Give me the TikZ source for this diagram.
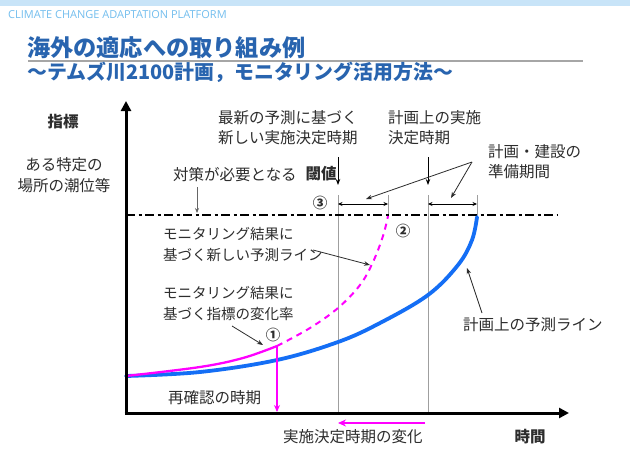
\documentclass[tikz,border=0pt]{standalone}
\usepackage{fontspec}
\setmainfont{Noto Sans CJK JP}
\newfontfamily\latinfont{Open Sans}
\usetikzlibrary{arrows.meta}
\definecolor{txt}{RGB}{45,45,45}
\definecolor{titleblue}{RGB}{40,100,175}
\definecolor{curveblue}{RGB}{20,110,245}
\definecolor{pink}{RGB}{255,0,255}
\definecolor{bandblue}{RGB}{200,228,248}
\definecolor{headblue}{RGB}{115,190,238}
\tikzset{
  lbl/.style={inner sep=0pt, text=txt, font=\fontsize{15.5}{20}\selectfont, align=left},
  lblsm/.style={inner sep=0pt, text=txt, font=\fontsize{14.5}{21}\selectfont, align=left},
  num/.style={inner sep=0pt, text=txt, font=\fontsize{14.5}{16}\selectfont\bfseries},
  ann/.style={draw=txt, line width=0.8pt, -{Stealth[length=6pt,width=4.5pt]}},
  dimarrow/.style={draw=black, line width=0.8pt, {Stealth[length=4.5pt,width=4pt]}-{Stealth[length=4.5pt,width=4pt]}},
  vline/.style={draw=gray!75, line width=0.9pt},
  axisline/.style={draw=black, line width=3pt, -{Triangle[length=10pt,width=10pt]}},
  thresh/.style={draw=black, line width=2.3pt, dash pattern=on 9pt off 3.5pt on 3pt off 3.5pt}
}
\begin{document}
\begin{tikzpicture}[x=1pt,y=-1pt]
\useasboundingbox (0,0) rectangle (630,450);
\fill[white] (0,0) rectangle (630,450);
% header
\fill[bandblue] (0,0) rectangle (630,6);
\node[anchor=west, inner sep=0pt, text=headblue, font=\latinfont\fontsize{11}{12}\selectfont] (hdr) at (8,15) {CLIMATE CHANGE ADAPTATION PLATFORM};
\node[anchor=west, inner sep=0pt, text=titleblue, font=\fontsize{23.2}{26}\selectfont\bfseries] (title) at (27,47.5) {海外の適応への取り組み例};
\draw[gray!70, line width=1.3pt] (28,61) -- (583,61);
\node[anchor=west, inner sep=0pt, text=titleblue, font=\fontsize{19.9}{22}\selectfont\bfseries] (subtitle) at (27,72) {～テムズ川2100計画，モニタリング活用方法～};

% coordinates
\coordinate (O) at (126,413);
\coordinate (ytop) at (126,101);
\coordinate (xend) at (569,413);
\coordinate (th0) at (126,215);
\coordinate (th1) at (558,215);

% vertical gray lines
\draw[vline] (338,195) -- (338,413);
\draw[vline] (428,195) -- (428,413);
\draw[vline] (388,195) -- (388,215);
\draw[vline] (477,195) -- (477,215);

% threshold
\draw[thresh] (th0) -- (th1);

% curves
\draw[curveblue, line width=3.8pt, line cap=round] plot[smooth, tension=0.6] coordinates {(126,376) (200,372) (277,360) (338,342) (380,323) (428,295) (458,265) (472,240) (477,217)};
\draw[pink, line width=2.3pt] plot[smooth, tension=0.6] coordinates {(126,376) (200,367) (243,358) (277,346)};
\draw[pink, line width=2pt, dash pattern=on 6pt off 5pt] plot[smooth, tension=0.6] coordinates {(277,346) (310,328) (338,308) (360,285) (373,262) (383,236) (388,216)};

% axes
\draw[axisline] (126,414.5) -- (ytop);
\draw[axisline] (124.5,413) -- (xend);

% dimension arrows
\coordinate (d1a) at (338,204); \coordinate (d1b) at (388,204);
\coordinate (d2a) at (428,204); \coordinate (d2b) at (477,204);
\draw[dimarrow] (d1a) -- (d1b);
\draw[dimarrow] (d2a) -- (d2b);

% labels
\node[inner sep=0pt, text=txt, font=\fontsize{15.5}{20}\selectfont\bfseries] (yl) at (63,122) {指標};
\node[lbl, align=center] (yl2) at (64,175) {ある特定の\\[1pt]場所の潮位等};
\node[inner sep=0pt, text=txt, font=\fontsize{15.5}{20}\selectfont\bfseries] (xl) at (530,437) {時間};

\node[lbl, anchor=west] (newdec) at (218,128) {最新の予測に基づく\\新しい実施決定時期};
\node[lbl, anchor=west] (plandec) at (388,128) {計画上の実施\\決定時期};
\node[lbl, anchor=west] (prep) at (488,162) {計画・建設の\\準備期間};
\node[lbl, anchor=west] (need) at (173,175) {対策が必要となる};
\node[inner sep=0pt, text=txt, font=\fontsize{15.5}{20}\selectfont\bfseries] (thr) at (321,174) {閾値};

\node[lblsm, anchor=west] (newline) at (163,244.5) {モニタリング結果に\\基づく新しい予測ライン};
\node[lblsm, anchor=west] (rate) at (163,304) {モニタリング結果に\\基づく指標の変化率};
\node[lbl, anchor=west] (recheck) at (168,398) {再確認の時期};
\node[lbl, anchor=west] (change) at (283,437) {実施決定時期の変化};
\node[lbl, anchor=west] (planline) at (463,325) {計画上の予測ライン};

\node[num] (c1) at (273,335) {①};
\node[num] (c2) at (403,231) {②};
\node[num] (c3) at (320,203) {③};

% annotation arrows
\coordinate (a1s) at (338,157); \coordinate (a1e) at (338,185);
\coordinate (a2s) at (428,157); \coordinate (a2e) at (428,185);
\draw[ann, draw=black, line width=1pt] (a1s) -- (a1e);
\draw[ann, draw=black, line width=1pt] (a2s) -- (a2e);
\coordinate (pp) at (472,162);
\coordinate (pp1) at (366,199);
\coordinate (pp2) at (451,198);
\draw[ann] (pp) -- (pp1);
\draw[ann] (pp) -- (pp2);
\coordinate (nd) at (197,187); \coordinate (nde) at (197,213);
\draw[draw=gray!80!black, line width=0.8pt, -{Stealth[length=5pt,width=4pt]}] (nd) -- (nde);
\coordinate (nl1) at (313,250); \coordinate (nl2) at (370,265);
\draw[ann] (nl1) -- (nl2);
\coordinate (rt1) at (232,326); \coordinate (rt2) at (263,345);
\draw[ann] (rt1) -- (rt2);
\coordinate (pl1) at (482,313); \coordinate (pl2) at (467,268);
\draw[ann] (pl1) -- (pl2);
% pink arrows
\coordinate (pk1) at (277,346); \coordinate (pk2) at (277,412);
\draw[pink, line width=1.6pt, -{Stealth[length=7pt,width=6pt]}] (pk1) -- (pk2);
\coordinate (ch1) at (425,423); \coordinate (ch2) at (338,423);
\draw[pink, line width=2pt, -{Stealth[length=8pt,width=7pt]}] (ch1) -- (ch2);
\end{tikzpicture}
\end{document}
